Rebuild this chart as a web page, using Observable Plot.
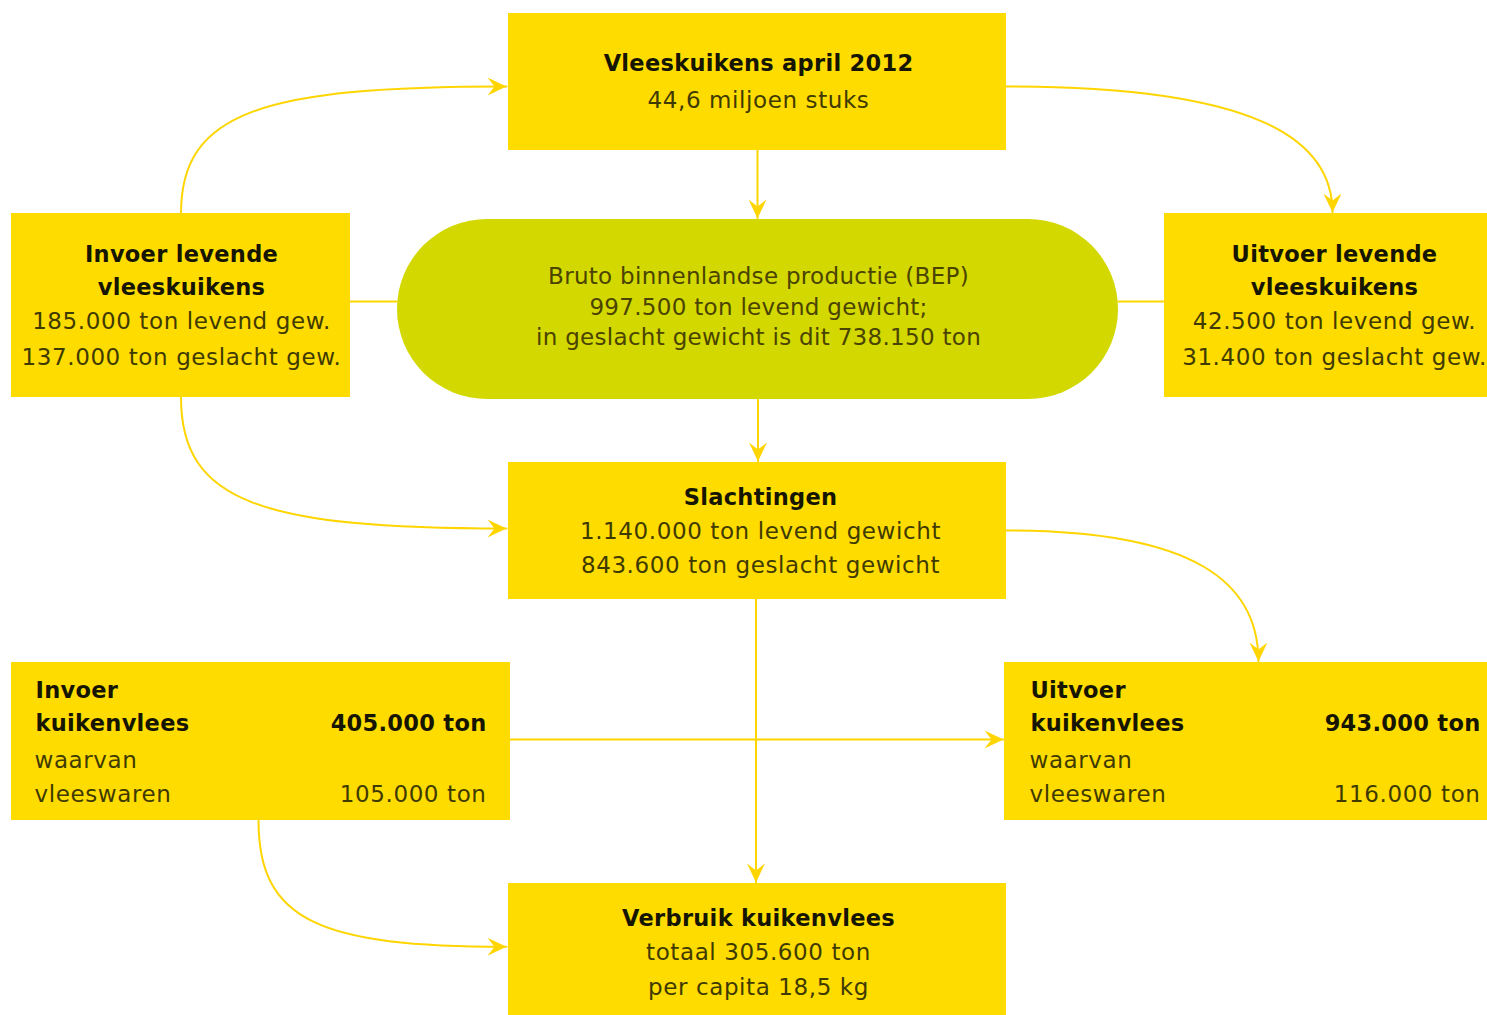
<!DOCTYPE html>
<html><head><meta charset="utf-8">
<script src="https://cdn.jsdelivr.net/npm/d3@7"></script>
<script src="https://cdn.jsdelivr.net/npm/@observablehq/plot@0.6"></script>
<style>
html,body{margin:0;padding:0;background:#fff;}
#chart{width:1487px;height:1015px;overflow:hidden}
#chart g[font-weight="700"]{letter-spacing:0.3px}
#chart g[font-weight="400"]{letter-spacing:0.6px}
#chart g[fill="#4a4400"]{letter-spacing:0.3px}
</style>
</head><body><div id="chart"></div>
<script>
// ---------- DATA ----------
const nodeIds = ["stock", "importLive", "bep", "exportLive", "slaughter", "importMeat", "exportMeat", "consumption"];
const nodeTitles = [
  ["Vleeskuikens april 2012"],
  ["Invoer levende", "vleeskuikens"],
  [],
  ["Uitvoer levende", "vleeskuikens"],
  ["Slachtingen"],
  ["Invoer", "kuikenvlees"],
  ["Uitvoer", "kuikenvlees"],
  ["Verbruik kuikenvlees"]
];
const nodeDetails = [
  ["44,6 miljoen stuks"],
  ["185.000 ton levend gew.", "137.000 ton geslacht gew."],
  ["Bruto binnenlandse productie (BEP)", "997.500 ton levend gewicht;", "in geslacht gewicht is dit 738.150 ton"],
  ["42.500 ton levend gew.", "31.400 ton geslacht gew."],
  ["1.140.000 ton levend gewicht", "843.600 ton geslacht gewicht"],
  ["waarvan", "vleeswaren"],
  ["waarvan", "vleeswaren"],
  ["totaal 305.600 ton", "per capita 18,5 kg"]
];
const meatTotals = {importMeat: "405.000 ton", exportMeat: "943.000 ton"};
const meatProcessed = {importMeat: "105.000 ton", exportMeat: "116.000 ton"};
const flowSources = ["importLive", "stock", "stock", "importLive", "bep", "bep", "importLive", "slaughter", "slaughter", "importMeat", "importMeat"];
const flowTargets = ["stock", "exportLive", "bep", "bep", "exportLive", "slaughter", "slaughter", "exportMeat", "consumption", "exportMeat", "consumption"];
const flowArrows = [true, true, true, false, false, true, true, true, true, true, true];

// ---------- LAYOUT (pixel frame of the diagram) ----------
const W = 1487, H = 1015;
const layout = {
  stock:       {x1: 508, x2: 1006, y1: 13,  y2: 150, lines: [63, 100], cx: 758, mode: "center"},
  importLive:  {x1: 11,  x2: 350,  y1: 213, y2: 397, lines: [254, 287, 321, 357], cx: 181, mode: "center"},
  bep:         {x1: 397, x2: 1118, y1: 219, y2: 399, lines: [276, 307, 337], cx: 758, mode: "pill"},
  exportLive:  {x1: 1164, x2: 1500, y1: 213, y2: 397, lines: [254, 287, 321, 357], cx: 1334, mode: "center"},
  slaughter:   {x1: 508, x2: 1006, y1: 462, y2: 599, lines: [497, 531, 565], cx: 760, mode: "center"},
  importMeat:  {x1: 11,  x2: 510,  y1: 662, y2: 820, lines: [690, 723, 760, 794], left: 35, right: 486, mode: "split"},
  exportMeat:  {x1: 1004, x2: 1500, y1: 662, y2: 820, lines: [690, 723, 760, 794], left: 1030, right: 1480, mode: "split"},
  consumption: {x1: 508, x2: 1006, y1: 883, y2: 1030, lines: [918, 952, 987], cx: 758, mode: "center"}
};
// ports: [side, fraction along side] for source and target of each flow
const flowPorts = [
  [["top", 0.5], ["left", 0.533]],
  [["right", 0.533], ["top", 0.5]],
  [["bottom", 0.5], ["top", 0.5]],
  [["right", 0.478], ["left", 0.456]],
  [["right", 0.456], ["left", 0.478]],
  [["bottom", 0.5], ["top", 0.5]],
  [["bottom", 0.5], ["left", 0.482]],
  [["right", 0.496], ["top", 0.512]],
  [["bottom", 0.497], ["top", 0.497]],
  [["right", 0.487], ["left", 0.487]],
  [["bottom", 0.495], ["left", 0.43]]
];

const COL = {box: "#FFDC00", pill: "#D3D800", line: "#FFD500", bold: "#161500", reg: "#3f3a00", pillText: "#4a4400"};
const FONT = "'DejaVu Sans', sans-serif";

// ---------- BUILD ----------
function port(id, side, f) {
  const b = layout[id];
  if (side === "top") return [b.x1 + f * (b.x2 - b.x1), b.y1];
  if (side === "bottom") return [b.x1 + f * (b.x2 - b.x1), b.y2];
  if (side === "left") return [b.x1, b.y1 + f * (b.y2 - b.y1)];
  return [b.x2, b.y1 + f * (b.y2 - b.y1)];
}
const linkPts = [], headPts = [];
flowSources.forEach((s, i) => {
  const t = flowTargets[i];
  const [ps, pt] = flowPorts[i];
  const p0 = port(s, ps[0], ps[1]);
  let p3 = port(t, pt[0], pt[1]);
  const vertOut = ps[0] === "top" || ps[0] === "bottom";
  const vertIn = pt[0] === "top" || pt[0] === "bottom";
  let pts;
  const dy = p3[1] - p0[1];
  let dir;
  if (vertOut && !vertIn) {
    const end = [p3[0] - 2, p3[1]];
    pts = [p0, [p0[0], p0[1] + 0.8 * dy], [end[0] - 0.75 * (end[0] - p0[0]), end[1]], end];
    dir = [1, 0]; p3 = end;
  } else if (!vertOut && vertIn) {
    const end = [p3[0], p3[1] - 1];
    pts = [p0, [p0[0] + 0.75 * (end[0] - p0[0]), p0[1]], [end[0], end[1] - 0.6 * (end[1] - p0[1])], end];
    dir = [0, 1]; p3 = end;
  } else if (vertOut) {
    const end = [p0[0], p3[1] - 1];
    pts = [p0, end]; dir = [0, 1]; p3 = end;
  } else {
    const end = [p3[0] - 1, p0[1]];
    pts = [p0, end]; dir = [1, 0]; p3 = end;
  }
  pts.forEach(([x, y]) => linkPts.push({flow: i, x, y}));
  if (flowArrows[i]) {
    const L = 19, Wd = 9, N = 7;
    const [ux, uy] = dir, nx = -uy, ny = ux;
    const tip = p3;
    const shape = [[0, 0], [-L, Wd], [-L + N, 0], [-L, -Wd]];
    shape.forEach(([a, b]) => headPts.push({flow: i, x: tip[0] + a * ux + b * nx, y: tip[1] + a * uy + b * ny}));
  }
});

function cubicCurve(context) {
  let pts = [];
  return {
    areaStart() {}, areaEnd() {},
    lineStart() { pts = []; },
    point(x, y) { pts.push([+x, +y]); },
    lineEnd() {
      if (!pts.length) return;
      context.moveTo(pts[0][0], pts[0][1]);
      if (pts.length === 4) context.bezierCurveTo(pts[1][0], pts[1][1], pts[2][0], pts[2][1], pts[3][0], pts[3][1]);
      else for (let k = 1; k < pts.length; k++) context.lineTo(pts[k][0], pts[k][1]);
    }
  };
}

const boxes = nodeIds.filter(id => layout[id].mode !== "pill").map(id => ({id, ...layout[id]}));
const pills = nodeIds.filter(id => layout[id].mode === "pill").map(id => ({id, ...layout[id]}));

const texts = [];
nodeIds.forEach((id, i) => {
  const b = layout[id];
  const titles = nodeTitles[i], details = nodeDetails[i];
  if (b.mode === "split") {
    titles.forEach((t, k) => texts.push({text: t, x: b.left, y: b.lines[k], style: "bold-start"}));
    details.forEach((t, k) => texts.push({text: t, x: b.left - 1, y: b.lines[titles.length + k], style: "reg-start"}));
    texts.push({text: meatTotals[id], x: b.right, y: b.lines[1], style: "bold-end"});
    texts.push({text: meatProcessed[id], x: b.right, y: b.lines[3], style: "reg-end"});
  } else {
    titles.forEach((t, k) => texts.push({text: t, x: b.cx, y: b.lines[k], style: "bold-middle"}));
    details.forEach((t, k) => texts.push({text: t, x: b.cx, y: b.lines[titles.length + k], style: b.mode === "pill" ? "pill-middle" : "reg-middle"}));
  }
});

const textMark = (style, anchor, weight, fill, size) =>
  Plot.text(texts.filter(d => d.style === style), {
    x: "x", y: "y", text: "text", textAnchor: anchor, fontWeight: weight,
    fill, fontSize: size, fontFamily: FONT
  });

const chart = Plot.plot({
  width: W, height: H,
  margin: 0,
  style: {background: "#ffffff", overflow: "hidden"},
  x: {domain: [0, W], range: [0, W], axis: null},
  y: {domain: [0, H], range: [0, H], axis: null},
  marks: [
    Plot.line(linkPts, {x: "x", y: "y", z: "flow", stroke: COL.line, strokeWidth: 2, curve: cubicCurve}),
    Plot.line(headPts, {x: "x", y: "y", z: "flow", fill: COL.line, stroke: "none"}),
    Plot.rect(boxes, {x1: "x1", x2: "x2", y1: "y1", y2: "y2", fill: COL.box}),
    Plot.rect(pills, {x1: "x1", x2: "x2", y1: "y1", y2: "y2", fill: COL.pill, rx: 90, ry: 90}),
    textMark("bold-middle", "middle", 700, COL.bold, 22.5),
    textMark("reg-middle", "middle", 400, COL.reg, 23),
    textMark("pill-middle", "middle", 400, COL.pillText, 23),
    textMark("bold-start", "start", 700, COL.bold, 22.5),
    textMark("reg-start", "start", 400, COL.reg, 23),
    textMark("bold-end", "end", 700, COL.bold, 22.5),
    textMark("reg-end", "end", 400, COL.reg, 23)
  ]
});
document.getElementById("chart").appendChild(chart);
</script>
</body></html>
